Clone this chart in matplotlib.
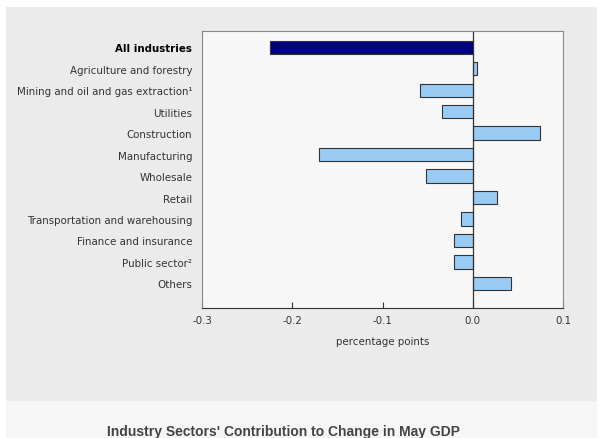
import matplotlib.pyplot as plt
from matplotlib.patches import Rectangle

industries = ["All industries", "Agriculture and forestry",
              "Mining and oil and gas extraction\u00b9", "Utilities",
              "Construction", "Manufacturing", "Wholesale", "Retail",
              "Transportation and warehousing", "Finance and insurance",
              "Public sector\u00b2", "Others"]
values = [-0.225, 0.005, -0.058, -0.034, 0.075, -0.170, -0.052, 0.027,
          -0.013, -0.021, -0.021, 0.042]
xticks = [-0.3, -0.2, -0.1, 0.0, 0.1]
title = "Industry Sectors' Contribution to Change in May GDP"

fig = plt.figure(figsize=(6, 4.39), dpi=100, facecolor="white")

# page background and bottom title panel
fig.patches.append(Rectangle((0.01, 0.085), 0.985, 0.897, transform=fig.transFigure,
                             facecolor="#ebebeb", edgecolor="none", zorder=-2))
fig.patches.append(Rectangle((0.01, 0.0), 0.985, 0.085, transform=fig.transFigure,
                             facecolor="#f6f6f6", edgecolor="none", zorder=-2))

ax = fig.add_axes([0.3367, 0.2961, 0.6017, 0.631])
ax.set_facecolor("#f7f7f7")

colors = ["#000080"] + ["#99ccf5"] * (len(values) - 1)
pos = list(range(len(values)))
ax.barh(pos, values, height=0.62, color=colors, edgecolor="#333333", linewidth=0.8)
ax.axvline(0, color="#333333", linewidth=0.9)

ax.set_ylim(len(values) - 1 + 1.15, -0.76)
ax.set_xlim(-0.3, 0.1)
ax.set_yticks(pos)
ax.set_yticklabels(industries, fontsize=7.35, color="#333333")
ax.get_yticklabels()[0].set_fontweight("bold")
ax.get_yticklabels()[0].set_color("black")
ax.tick_params(axis="y", length=0, pad=7)
ax.set_xticks(xticks)
ax.set_xticklabels(["%.1f" % t for t in xticks], fontsize=7.35, color="#333333")
ax.tick_params(axis="x", direction="in", length=4, color="#333333", pad=5)
ax.set_xlabel("percentage points", fontsize=7.35, color="#333333", labelpad=8)
for s in ax.spines.values():
    s.set_color("#888888")
ax.spines["bottom"].set_color("#333333")

fig.text(0.4717, 0.016, title, ha="center", va="center", fontsize=10,
         fontweight="bold", family="Liberation Sans", color="#444444")

fig.savefig("out.png", dpi=100, facecolor=fig.get_facecolor())
